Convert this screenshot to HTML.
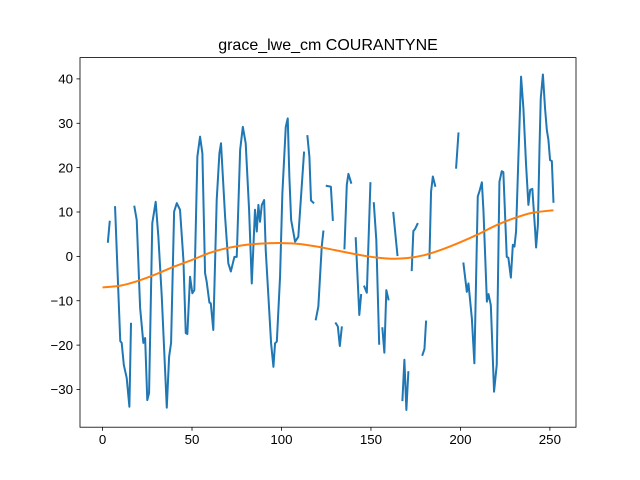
<!DOCTYPE html>
<html><head><meta charset="utf-8"><style>
html,body{margin:0;padding:0;background:#fff;}
svg{display:block;font-family:"Liberation Sans","DejaVu Sans",sans-serif;}
</style></head><body>
<svg id="chart" width="640" height="480" xmlns="http://www.w3.org/2000/svg">
<rect width="640" height="480" fill="#fff"/>
<text x="328" y="50" text-anchor="middle" font-size="16" fill="#000">grace_lwe_cm COURANTYNE</text>
<g id="plot"></g>
</svg>
<script>
const seriesX = [3,4,null,7,8.5,9.9,10.7,11.9,13.5,15,15.9,null,17.8,19.1,21,22.8,23.8,25,26,27.8,29.7,31.2,33.1,35.9,37.2,38.3,40,41.5,43.3,45.2,46.5,47.4,48.9,50.2,51.3,53,54.5,55.8,57.3,58.2,59.7,60.5,61.9,63.8,65.3,66.2,68.5,70.3,71.7,73.7,75,76.9,78.4,80,81.9,83.4,85.2,86.2,87.1,88,89,90.3,91.2,92.7,94.2,95.5,96.4,97.4,99.2,100.5,102.4,103.5,104.4,105.4,107.6,109.4,112.6,null,114.5,115.6,116.5,117.8,null,119.2,120.6,122.5,123.4,null,125.3,127.6,128.7,null,130.4,131.5,132.6,133.7,null,135.2,136.5,137.4,138.9,null,141.5,143.5,144.5,null,146.3,147.7,149.7,null,151.6,153,154.6,null,156.4,157.5,158.6,159.8,null,162.5,164.8,null,167.6,168.7,169.8,170.9,null,172.8,173.7,174.7,176,null,178.8,179.9,180.8,null,182.7,183.6,184.6,185.9,null,197.6,198.9,null,201.7,203.6,204.5,206.4,207.8,209.7,210.6,212,212.9,214.8,215.7,217,218.8,220.3,221.8,223.1,224,225.9,226.8,228.2,229.3,230.2,231.1,232.4,233.9,235.2,236.7,238,239,240.2,241.8,242.3,243.3,244.2,244.9,246.1,247.3,248.3,249.2,250.1,251.1,252];
const seriesY = [3.3,7.8,null,11.1,-4.6,-19.1,-19.5,-24.5,-27.4,-33.9,-15.2,null,11.2,8.2,-11.6,-19.5,-18.4,-32.4,-30.8,7.5,12.3,4.4,-9.1,-34.1,-22.6,-19.5,10.1,12,10.5,-0.8,-17.3,-17.5,-4.6,-8.3,-7.6,22.5,27,23.2,-3.8,-5.7,-10.4,-10.6,-16.6,12.7,23.2,25.5,8.9,-1.6,-3.4,-0.1,-0.1,24,29.2,25.5,10.5,-6.1,10.5,5.6,11.6,7.8,11.6,12.7,1.4,-9.1,-19.6,-24.9,-19.6,-19.2,-4.6,14.2,29.2,31.1,18,8.2,3.3,4.4,23.4,null,27.1,22.5,12.6,12.1,null,-14.2,-11.3,2.2,5.6,null,15.9,15.7,8.2,null,-15.1,-15.8,-20.2,-16,null,1.8,16.1,18.6,16.6,null,4.1,-13.2,-8.7,null,-6.8,-8.2,16.5,null,12,3.7,-19.7,null,-16.2,-21.7,-7.6,-9.7,null,9.8,0.3,null,-32.4,-23.3,-34.6,-26.1,null,-3.1,5.7,6.2,7.3,null,-22.2,-20.9,-14.7,null,-0.4,14.6,18,15.9,null,20,27.7,null,-1.6,-8,-6.1,-14,-24.1,13.5,14.6,16.7,10.1,-10.2,-8.5,-11,-30.5,-24.5,16.8,19.2,19,-0.1,-0.3,-4.8,2.6,2.2,5.6,22.1,40.5,33.4,20.6,11.6,15,15.2,5.6,2,7.1,24.4,35.6,41,33.4,28.5,26.2,21.7,21.5,12.3];
const trendX = [0,10,20,30,40,50,60,70,80,90,100,110,120,130,140,150,160,170,180,190,200,210,220,230,240,252];
const trendY = [-7,-6.6,-5.5,-4,-2.3,-0.8,0.8,1.9,2.6,2.9,3,2.8,2.2,1.4,0.6,-0.1,-0.5,-0.4,0.3,1.6,3.2,5,7,8.6,9.8,10.4];
const xTicks = [0,50,100,150,200,250];
const yTicks = [-30,-20,-10,0,10,20,30,40];

const L=80,R=576,T=57.6,B=427.2;
const xMin=-12.6,xMax=264.6,yMin=-38.5,yMax=44.8;
function sx(v){return L+(v-xMin)/(xMax-xMin)*(R-L);}
function sy(v){return B-(v-yMin)/(yMax-yMin)*(B-T);}
const NS="http://www.w3.org/2000/svg";
const g=document.getElementById('plot');
function mk(tag,attrs){const e=document.createElementNS(NS,tag);for(const k in attrs)e.setAttribute(k,attrs[k]);g.appendChild(e);return e;}

function pathFrom(xs,ys){let d='',pen=false;for(let i=0;i<xs.length;i++){if(xs[i]===null||ys[i]===null){pen=false;continue;}d+=(pen?'L':'M')+sx(xs[i]).toFixed(2)+' '+sy(ys[i]).toFixed(2);pen=true;}return d;}
function smoothFrom(xs,ys){
  const p=xs.map((x,i)=>[sx(x),sy(ys[i])]);
  let d='M'+p[0][0].toFixed(2)+' '+p[0][1].toFixed(2);
  for(let i=0;i<p.length-1;i++){
    const p0=p[Math.max(0,i-1)],p1=p[i],p2=p[i+1],p3=p[Math.min(p.length-1,i+2)];
    const c1=[p1[0]+(p2[0]-p0[0])/6,p1[1]+(p2[1]-p0[1])/6];
    const c2=[p2[0]-(p3[0]-p1[0])/6,p2[1]-(p3[1]-p1[1])/6];
    d+='C'+c1[0].toFixed(2)+' '+c1[1].toFixed(2)+' '+c2[0].toFixed(2)+' '+c2[1].toFixed(2)+' '+p2[0].toFixed(2)+' '+p2[1].toFixed(2);
  }
  return d;
}

const s1=mk('path',{d:pathFrom(seriesX,seriesY),fill:'none',stroke:'#1f77b4','stroke-width':2,'stroke-linejoin':'round','stroke-linecap':'square'});


const s2=mk('path',{d:smoothFrom(trendX,trendY),fill:'none',stroke:'#ff7f0e','stroke-width':2,'stroke-linejoin':'round'});



const frame=mk('rect',{x:L,y:T,width:R-L,height:B-T,fill:'none',stroke:'#000','stroke-width':0.8});



xTicks.forEach(t=>{
  const x=sx(t);
  const ln=mk('line',{x1:x,x2:x,y1:B,y2:B+3.5,stroke:'#000','stroke-width':0.8});
  
  
  const tx=mk('text',{x:x,y:B+17,'text-anchor':'middle','font-size':13.3,fill:'#000'});
  tx.textContent=t;
  
  
});
yTicks.forEach(t=>{
  const y=sy(t);
  const ln=mk('line',{x1:L-3.5,x2:L,y1:y,y2:y,stroke:'#000','stroke-width':0.8});
  
  
  const tx=mk('text',{x:L-7,y:y+4.7,'text-anchor':'end','font-size':13.3,fill:'#000'});
  tx.textContent=(t<0?'\u2212'+Math.abs(t):t);
  
  
});
</script>
</body></html>
